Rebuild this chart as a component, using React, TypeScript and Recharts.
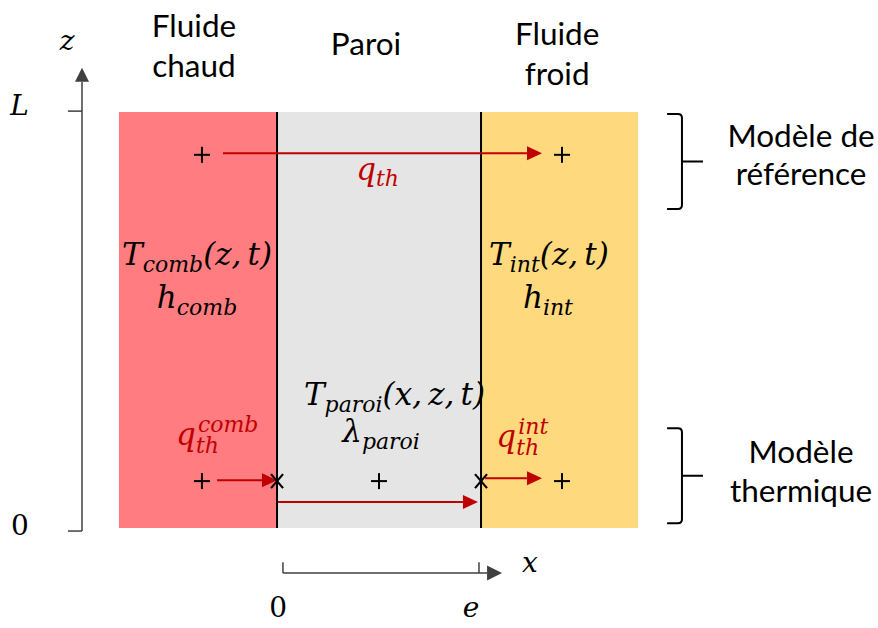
import React from 'react';
import {
  ComposedChart, XAxis, YAxis, ReferenceArea, ReferenceLine, ReferenceDot, Scatter,
} from 'recharts';

// x is in units of the wall thickness e, z in units of the height L
const X_DOMAIN: [number, number] = [-1.358, 2.946];
const Z_DOMAIN: [number, number] = [-0.24, 1.269];

const zoneX1 = [-0.775, 0, 1];
const zoneX2 = [0, 1, 1.77];
const zoneFill = ['#FF7C80', '#E5E5E5', '#FFD97D'];

const headerLines = [['Fluide', 'chaud'], ['Paroi'], ['Fluide', 'froid']];
const headerX = [-0.407, 0.436, 1.373];
const headerZ = [[1.18, 1.084], [1.137], [1.161, 1.065]];

const modelLines = [['Modèle de', 'référence'], ['Modèle', 'thermique']];
const modelX = 2.569;
const modelZ = [[0.916, 0.825], [0.156, 0.0625]];

// braces: [x left, x spine, x tip, z top, z bottom]
const braces = [
  [1.912, 1.985, 2.088, 0.995, 0.767],
  [1.912, 1.985, 2.088, 0.24, 0.012],
];

const plusMarks = [
  { x: -0.368, z: 0.897 },
  { x: 1.397, z: 0.897 },
  { x: -0.368, z: 0.113 },
  { x: 0.5, z: 0.113 },
  { x: 1.397, z: 0.113 },
];
const crossMarks = [
  { x: 0, z: 0.113 },
  { x: 1, z: 0.113 },
];

// heat flux arrows: from, to, z
const fluxArrows = [
  { from: -0.265, to: 1.299, z: 0.901 },
  { from: -0.294, to: 0.0, z: 0.115 },
  { from: 1.02, to: 1.299, z: 0.12 },
  { from: 0.005, to: 0.985, z: 0.0625 },
];

const TS = '\u2009';
const inkLabels = [
  { base: 'T', sub: 'comb', tail: `(z,${TS}t)`, x: -0.392, z: 0.632 },
  { base: 'h', sub: 'comb', tail: '', x: -0.392, z: 0.529 },
  { base: 'T', sub: 'int', tail: `(z,${TS}t)`, x: 1.333, z: 0.632 },
  { base: 'h', sub: 'int', tail: '', x: 1.328, z: 0.529 },
  { base: 'T', sub: 'paroi', tail: `(x,${TS}z,${TS}t)`, x: 0.576, z: 0.296 },
  { base: 'λ', sub: 'paroi', tail: '', x: 0.51, z: 0.207 },
];
const fluxLabels = [
  { base: 'q', sub: 'th', sup: '', x: 0.493, z: 0.837 },
  { base: 'q', sub: 'th', sup: 'comb', x: -0.495, z: 0.2 },
  { base: 'q', sub: 'th', sup: 'int', x: 1.075, z: 0.195 },
];

const axisLabels = [
  { text: 'z', italic: true, x: -1.029, z: 1.149 },
  { text: 'L', italic: true, x: -1.262, z: 0.993 },
  { text: '0', italic: false, x: -1.26, z: -0.017 },
  { text: 'x', italic: true, x: 1.24, z: -0.106 },
  { text: '0', italic: false, x: 0.005, z: -0.214 },
  { text: 'e', italic: true, x: 0.951, z: -0.214 },
];

const zAxisX = -0.956;
const zAxisTop = 1.106;
const zTicks = [1.002, -0.007];
const zTickX1 = -1.025;
const xAxisZ = -0.108;
const xAxisFrom = 0.029;
const xAxisTip = 1.103;
const xTicks = [0.029, 0.99];
const xTickTop = -0.082;

const RED = '#C00000';
const INK = '#000000';
const AXIS = '#404040';
const SANS = 'Lato, "Open Sans", sans-serif';
const MATH = '"DejaVu Serif", serif';
const MATH_SIZE = 31;
const SCRIPT_SIZE = 22;

const arrowShape = (color: string, width: number, len: number, half: number) => (p: any) => {
  const { x1, y1, x2, y2 } = p;
  const a = Math.atan2(y2 - y1, x2 - x1);
  const bx = x2 - len * Math.cos(a);
  const by = y2 - len * Math.sin(a);
  const nx = -Math.sin(a) * half;
  const ny = Math.cos(a) * half;
  return (
    <g>
      <line x1={x1} y1={y1} x2={bx} y2={by} stroke={color} strokeWidth={width} />
      <polygon points={`${x2},${y2} ${bx + nx},${by + ny} ${bx - nx},${by - ny}`} fill={color} />
    </g>
  );
};

const braceShape = (spineFrac: number) => (p: any) => {
  const { x, y, width, height } = p;
  const sx = x + width * spineFrac;
  const ym = y + height / 2;
  const r = 4;
  const d = `M${x},${y} H${sx - r} Q${sx},${y} ${sx},${y + r} V${y + height - r} Q${sx},${y + height} ${sx - r},${y + height} H${x} M${sx},${ym} H${x + width}`;
  return <path d={d} fill="none" stroke={INK} strokeWidth={2} />;
};

const PlusShape = (p: any) => (
  <g stroke={INK} strokeWidth={2}>
    <line x1={p.cx - 8} y1={p.cy} x2={p.cx + 8} y2={p.cy} />
    <line x1={p.cx} y1={p.cy - 8} x2={p.cx} y2={p.cy + 8} />
  </g>
);

const CrossShape = (p: any) => (
  <g stroke={INK} strokeWidth={2.2}>
    <line x1={p.cx - 6} y1={p.cy - 7} x2={p.cx + 6} y2={p.cy + 7} />
    <line x1={p.cx - 6} y1={p.cy + 7} x2={p.cx + 6} y2={p.cy - 7} />
  </g>
);

const sansText = (text: string) => (p: any) => (
  <text x={p.cx} y={p.cy} textAnchor="middle" fill={INK} fontFamily={SANS} fontSize={31.5}>
    {text}
  </text>
);

const inkShape = (l: typeof inkLabels[number]) => (p: any) => (
  <text x={p.cx} y={p.cy} textAnchor="middle" fill={INK} fontFamily={MATH} fontStyle="italic" fontSize={MATH_SIZE}>
    <tspan>{l.base}</tspan>
    <tspan dy={7} fontSize={SCRIPT_SIZE}>{l.sub}</tspan>
    {l.tail ? <tspan dy={-7}>{l.tail}</tspan> : null}
  </text>
);

const fluxShape = (l: typeof fluxLabels[number]) => (p: any) => {
  if (!l.sup) {
    return (
      <text x={p.cx} y={p.cy} textAnchor="middle" fill={RED} fontFamily={MATH} fontStyle="italic" fontSize={MATH_SIZE}>
        <tspan>{l.base}</tspan>
        <tspan dy={6} fontSize={SCRIPT_SIZE}>{l.sub}</tspan>
      </text>
    );
  }
  // sub and sup stacked after the base letter
  return (
    <text x={p.cx} y={p.cy} fill={RED} fontFamily={MATH} fontStyle="italic" fontSize={MATH_SIZE}>
      <tspan>{l.base}</tspan>
      <tspan dy={8} fontSize={SCRIPT_SIZE}>{l.sub}</tspan>
      <tspan dx={-21} dy={-21} fontSize={SCRIPT_SIZE}>{l.sup}</tspan>
    </text>
  );
};

const axisShape = (l: typeof axisLabels[number]) => (p: any) => (
  <text x={p.cx} y={p.cy} textAnchor="middle" fill={INK} fontFamily={MATH}
    fontStyle={l.italic ? 'italic' : 'normal'} fontSize={28}>
    {l.text}
  </text>
);

export default function App() {
  return (
    <div style={{ position: 'absolute', left: 0, top: 0, background: '#fff' }}>
      <ComposedChart width={878} height={628} margin={{ top: 0, right: 0, bottom: 0, left: 0 }}>
        <XAxis type="number" dataKey="x" domain={X_DOMAIN} allowDataOverflow hide />
        <YAxis type="number" dataKey="z" domain={Z_DOMAIN} allowDataOverflow hide />

        {zoneX1.map((x1, i) => (
          <ReferenceArea key={`zone-${i}`} x1={x1} x2={zoneX2[i]} y1={0} y2={1}
            fill={zoneFill[i]} fillOpacity={1} stroke="none" />
        ))}
        {[0, 1].map((x) => (
          <ReferenceLine key={`wall-${x}`} segment={[{ x, y: 0 }, { x, y: 1 }]} stroke={INK} strokeWidth={2} />
        ))}

        {/* z axis */}
        <ReferenceLine segment={[{ x: zAxisX, y: zTicks[1] }, { x: zAxisX, y: zAxisTop }]}
          shape={arrowShape(AXIS, 1.5, 14, 7)} />
        {zTicks.map((z) => (
          <ReferenceLine key={`zt-${z}`} segment={[{ x: zTickX1, y: z }, { x: zAxisX, y: z }]}
            stroke={AXIS} strokeWidth={1.5} />
        ))}

        {/* x axis */}
        <ReferenceLine segment={[{ x: xAxisFrom, y: xAxisZ }, { x: xAxisTip, y: xAxisZ }]}
          shape={arrowShape(AXIS, 1.5, 15, 7.5)} />
        {xTicks.map((x) => (
          <ReferenceLine key={`xt-${x}`} segment={[{ x, y: xTickTop }, { x, y: xAxisZ }]}
            stroke={AXIS} strokeWidth={1.5} />
        ))}

        {fluxArrows.map((a, i) => (
          <ReferenceLine key={`flux-${i}`} segment={[{ x: a.from, y: a.z }, { x: a.to, y: a.z }]}
            shape={arrowShape(RED, 2, 15, 7)} />
        ))}

        {braces.map((b, i) => (
          <ReferenceArea key={`brace-${i}`} x1={b[0]} x2={b[2]} y1={b[4]} y2={b[3]}
            shape={braceShape((b[1] - b[0]) / (b[2] - b[0]))} />
        ))}

        <Scatter data={plusMarks} shape={PlusShape} isAnimationActive={false} />
        <Scatter data={crossMarks} shape={CrossShape} isAnimationActive={false} />

        {headerLines.map((lines, i) =>
          lines.map((t, j) => (
            <ReferenceDot key={`h-${i}-${j}`} x={headerX[i]} y={headerZ[i][j]} shape={sansText(t)} />
          )),
        )}
        {modelLines.map((lines, i) =>
          lines.map((t, j) => (
            <ReferenceDot key={`m-${i}-${j}`} x={modelX} y={modelZ[i][j]} shape={sansText(t)} />
          )),
        )}

        {inkLabels.map((l, i) => (
          <ReferenceDot key={`ink-${i}`} x={l.x} y={l.z} shape={inkShape(l)} />
        ))}
        {fluxLabels.map((l, i) => (
          <ReferenceDot key={`fl-${i}`} x={l.x} y={l.z} shape={fluxShape(l)} />
        ))}
        {axisLabels.map((l, i) => (
          <ReferenceDot key={`ax-${i}`} x={l.x} y={l.z} shape={axisShape(l)} />
        ))}
      </ComposedChart>
    </div>
  );
}
